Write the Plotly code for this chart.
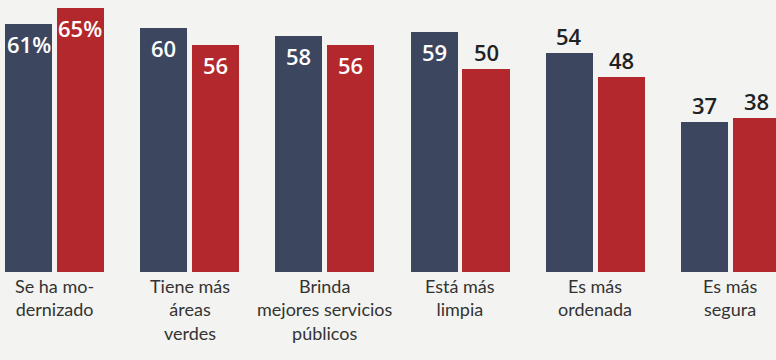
import plotly.graph_objects as go

categories = ["Se ha mo-<br>dernizado", "Tiene más<br>áreas<br>verdes", "Brinda<br>mejores servicios<br>públicos",
              "Está más<br>limpia", "Es más<br>ordenada", "Es más<br>segura"]
serie_a = [61, 60, 58, 59, 54, 37]
serie_b = [65, 56, 56, 50, 48, 38]
texto_a = ["61%", "60", "58", "59", "54", "37"]
texto_b = ["65%", "56", "56", "50", "48", "38"]
inside_a = [True, True, True, True, False, False]
inside_b = [True, True, True, False, False, False]

BLUE = "#3c465e"
RED = "#b3282c"
BG = "#f3f3f1"
W = 0.348
OFF_A = -0.366
OFF_B = 0.018

xs = list(range(len(categories)))

fig = go.Figure()
fig.add_trace(go.Bar(x=xs, y=serie_a, marker_color=BLUE, width=W, offset=OFF_A,
                     marker_line_width=0, hoverinfo="skip"))
fig.add_trace(go.Bar(x=xs, y=serie_b, marker_color=RED, width=W, offset=OFF_B,
                     marker_line_width=0, hoverinfo="skip"))

annotations = []
for vals, texts, ins, off in [(serie_a, texto_a, inside_a, OFF_A), (serie_b, texto_b, inside_b, OFF_B)]:
    for i, (v, t, inside) in enumerate(zip(vals, texts, ins)):
        annotations.append(dict(
            x=i + off + W / 2, y=v, xref="x", yref="y", text=t, showarrow=False,
            yanchor="top" if inside else "bottom", yshift=-3 if inside else 0,
            font=dict(family="Open Sans", size=22, weight=600,
                      color="white" if inside else "#222222")))
for i, c in enumerate(categories):
    annotations.append(dict(
        x=i, y=0, xref="x", yref="y", text=c, showarrow=False, yanchor="top", yshift=-1,
        font=dict(family="Lato", size=18, color="#333333")))

fig.update_layout(
    width=776, height=360,
    margin=dict(l=0, r=0, t=8, b=88),
    paper_bgcolor=BG, plot_bgcolor=BG,
    showlegend=False,
    bargap=0, barmode="overlay",
    annotations=annotations,
)
fig.update_xaxes(range=[-0.403, 5.337], showgrid=False, zeroline=False, showline=False,
                 showticklabels=False, ticks="", automargin=False)
fig.update_yaxes(range=[0, 65], visible=False, automargin=False)

fig.write_html("out.html", config={"displayModeBar": False},
               post_script="document.body.style.margin='0';document.body.style.background='%s';" % BG)
